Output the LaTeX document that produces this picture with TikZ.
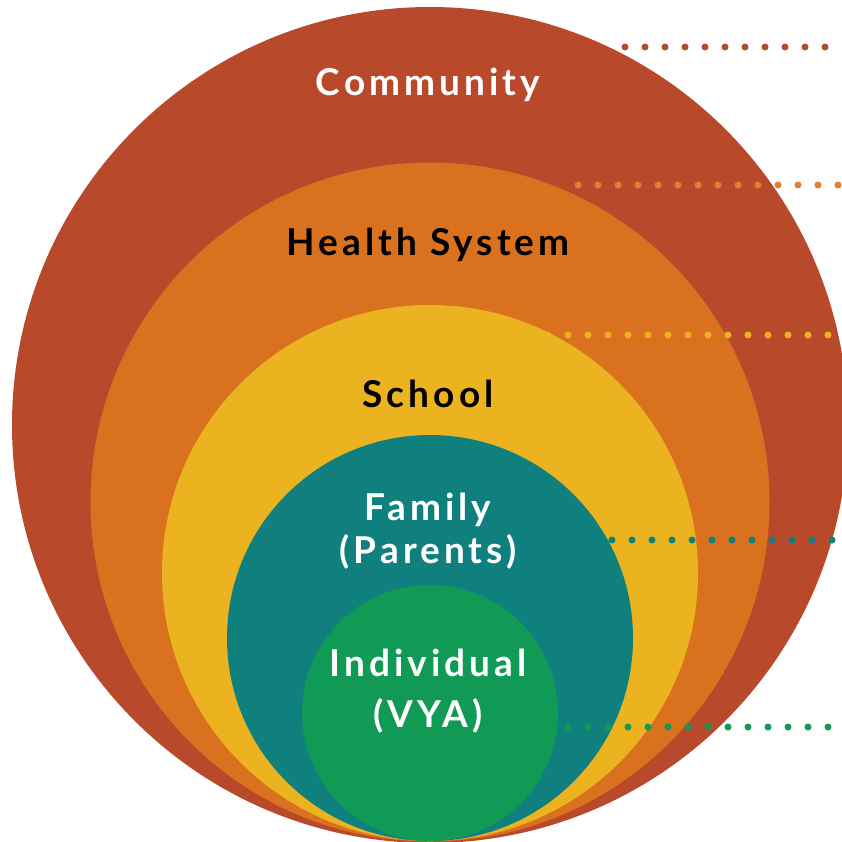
\documentclass[tikz,border=0pt]{standalone}
\usepackage{fontspec}
\setmainfont{Lato}[LetterSpace = 11]
\definecolor{community}{HTML}{B84A2B}
\definecolor{health}{HTML}{D9711F}
\definecolor{school}{HTML}{EBB320}
\definecolor{family}{HTML}{10807F}
\definecolor{individual}{HTML}{109A56}
\begin{document}
\begin{tikzpicture}[x = 1pt, y = -1pt,
   ring/.style = {circle, fill = #1, inner sep = 0pt},
   lvl/.style = {font = \fontsize{37}{43}\selectfont\bfseries, align = center, text = #1},
   dots/.style = {draw = #1, line width = 7pt, line cap = round, dash pattern = on 0pt off 20pt}]
   \useasboundingbox (0, 0) rectangle (842, 841);
   \clip (0, 0) rectangle (842, 841);
   \node[ring = community,  minimum size = 836pt] (community)  at (430, 425) {};
   \node[ring = health,     minimum size = 679pt] (health)     at (430, 502) {};
   \node[ring = school,     minimum size = 536pt] (school)     at (430, 573) {};
   \node[ring = family,     minimum size = 406pt] (family)     at (430, 638) {};
   \node[ring = individual, minimum size = 256pt] (individual) at (430, 713) {};
   \node[lvl = white] (tcommunity)  at (428, 85)  {Community};
   \node[lvl = black] (thealth)     at (428, 245) {Health System};
   \node[lvl = black] (tschool)     at (428, 394) {School};
   \node[lvl = white] (tfamily)     at (428, 531) {Family\\(Parents)};
   \node[lvl = white] (tindividual) at (428, 691) {Individual\\[8pt](VYA)};
   \coordinate (c1) at (625, 47);  \coordinate (c2) at (845, 47);
   \coordinate (h1) at (578, 185); \coordinate (h2) at (845, 185);
   \coordinate (s1) at (548, 335); \coordinate (s2) at (845, 335);
   \coordinate (f1) at (612, 540); \coordinate (f2) at (845, 540);
   \coordinate (i1) at (568, 727); \coordinate (i2) at (845, 727);
   \draw[dots = community]  (c1) -- (c2);
   \draw[dots = health!90!white]  (h1) -- (h2);
   \draw[dots = school]     (s1) -- (s2);
   \draw[dots = family]     (f1) -- (f2);
   \draw[dots = individual] (i1) -- (i2);
   \end{tikzpicture}
\end{document}
